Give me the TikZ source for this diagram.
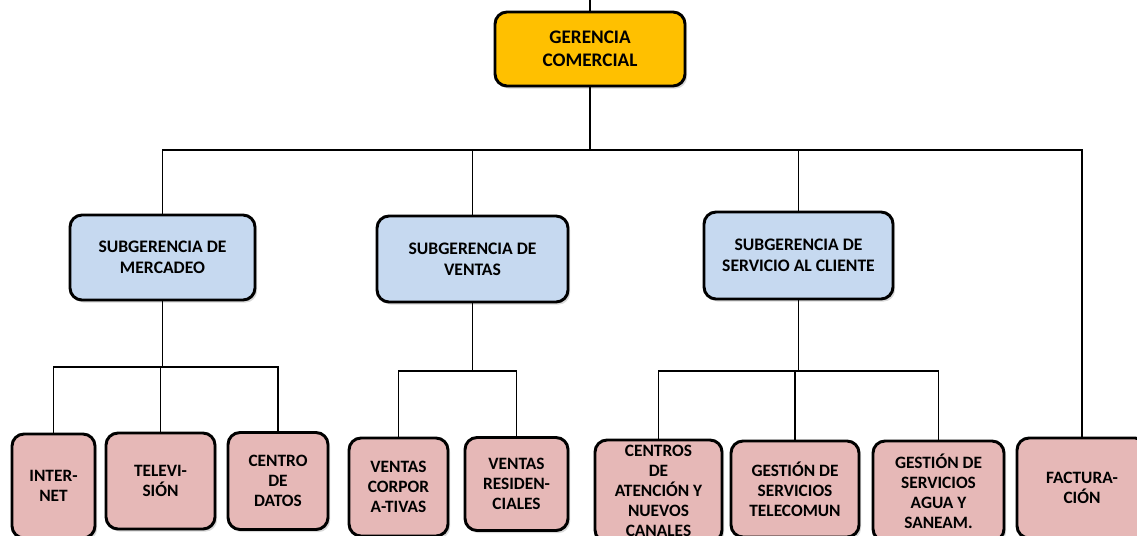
\documentclass[tikz,border=0pt]{standalone}
\usepackage{fontspec}
\setmainfont{Carlito}
\usetikzlibrary{shadows}
\definecolor{gerfill}{RGB}{255,192,0}
\definecolor{subfill}{RGB}{198,217,240}
\definecolor{areafill}{RGB}{230,184,183}
\tikzset{
  box/.style={draw=black, line width=2.2pt, rounded corners=9pt, inner sep=0pt,
    align=center, font=\bfseries,
    drop shadow={shadow xshift=1.6pt, shadow yshift=-2pt, opacity=0.3}},
  gerbox/.style={box, fill=gerfill, font=\fontsize{14.4}{17}\selectfont\bfseries},
  subbox/.style={box, fill=subfill, font=\fontsize{13.2}{15.5}\selectfont\bfseries},
  areabox/.style={box, fill=areafill, font=\fontsize{13}{15}\selectfont\bfseries},
  link/.style={draw=black, line width=0.9pt}
}
\begin{document}
\begin{tikzpicture}[x=0.75pt, y=-0.75pt]
    \useasboundingbox (0,0) rectangle (1137,535);

    \node[gerbox, minimum width=142.5pt, minimum height=55.5pt] (ger) at (590,49) {GERENCIA\\COMERCIAL};

    \node[subbox, minimum width=138.75pt, minimum height=63.75pt] (merc) at (162.5,257.5) {SUBGERENCIA DE\\MERCADEO};
    \node[subbox, minimum width=143.25pt, minimum height=64.5pt] (ventas) at (472.5,259) {SUBGERENCIA DE\\VENTAS};
    \node[subbox, minimum width=141.75pt, minimum height=65.25pt] (servicio) at (798.5,255.5) {SUBGERENCIA DE\\SERVICIO AL CLIENTE};

    \node[areabox, minimum width=62.25pt, minimum height=78pt] (internet) at (53.5,486) {INTER-\\NET};
    \node[areabox, minimum width=81.75pt, minimum height=72pt] (television) at (160.5,481) {TELEVI-\\SIÓN};
    \node[areabox, minimum width=75pt, minimum height=72.75pt] (datos) at (278,481) {CENTRO\\DE\\DATOS};
    \node[areabox, minimum width=74.25pt, minimum height=73.5pt] (vcorp) at (398.5,487) {VENTAS\\CORPOR\\A-TIVAS};
    \node[areabox, minimum width=77.25pt, minimum height=69.75pt] (vres) at (516.5,484) {VENTAS\\RESIDEN-\\CIALES};
    \node[areabox, minimum width=95.25pt, minimum height=76.5pt] (centros) at (658.5,491) {CENTROS\\DE\\ATENCIÓN Y\\NUEVOS\\CANALES};
    \node[areabox, minimum width=96pt, minimum height=72pt] (telecom) at (795,489) {GESTIÓN DE\\SERVICIOS\\TELECOMUN};
    \node[areabox, minimum width=98.25pt, minimum height=75pt] (agua) at (938.5,491) {GESTIÓN DE\\SERVICIOS\\AGUA Y\\SANEAM.};
    \node[areabox, minimum width=97.5pt, minimum height=75pt] (fact) at (1082,488) {FACTURA-\\CIÓN};

    \coordinate (topstub) at (590,0);
    \coordinate (bus) at (0,150);
    \coordinate (busM) at (0,367);
    \coordinate (busV) at (0,371);
    \coordinate (busS) at (0,371);

    \draw[link] (topstub) -- (ger.north);
    \draw[link] (ger.south) -- (ger.south |- bus);
    \draw[link] (merc.north) |- (fact.north |- bus) -- (fact.north);
    \draw[link] (ventas.north) -- (ventas.north |- bus);
    \draw[link] (servicio.north) -- (servicio.north |- bus);

    \draw[link] (merc.south) -- (merc.south |- busM);
    \draw[link] (internet.north) |- (datos.north |- busM) -- (datos.north);
    \draw[link] (television.north) -- (television.north |- busM);

    \draw[link] (ventas.south) -- (ventas.south |- busV);
    \draw[link] (vcorp.north) |- (vres.north |- busV) -- (vres.north);

    \draw[link] (servicio.south) -- (servicio.south |- busS);
    \draw[link] (centros.north) |- (agua.north |- busS) -- (agua.north);
    \draw[link] (telecom.north) -- (telecom.north |- busS);
\end{tikzpicture}
\end{document}
